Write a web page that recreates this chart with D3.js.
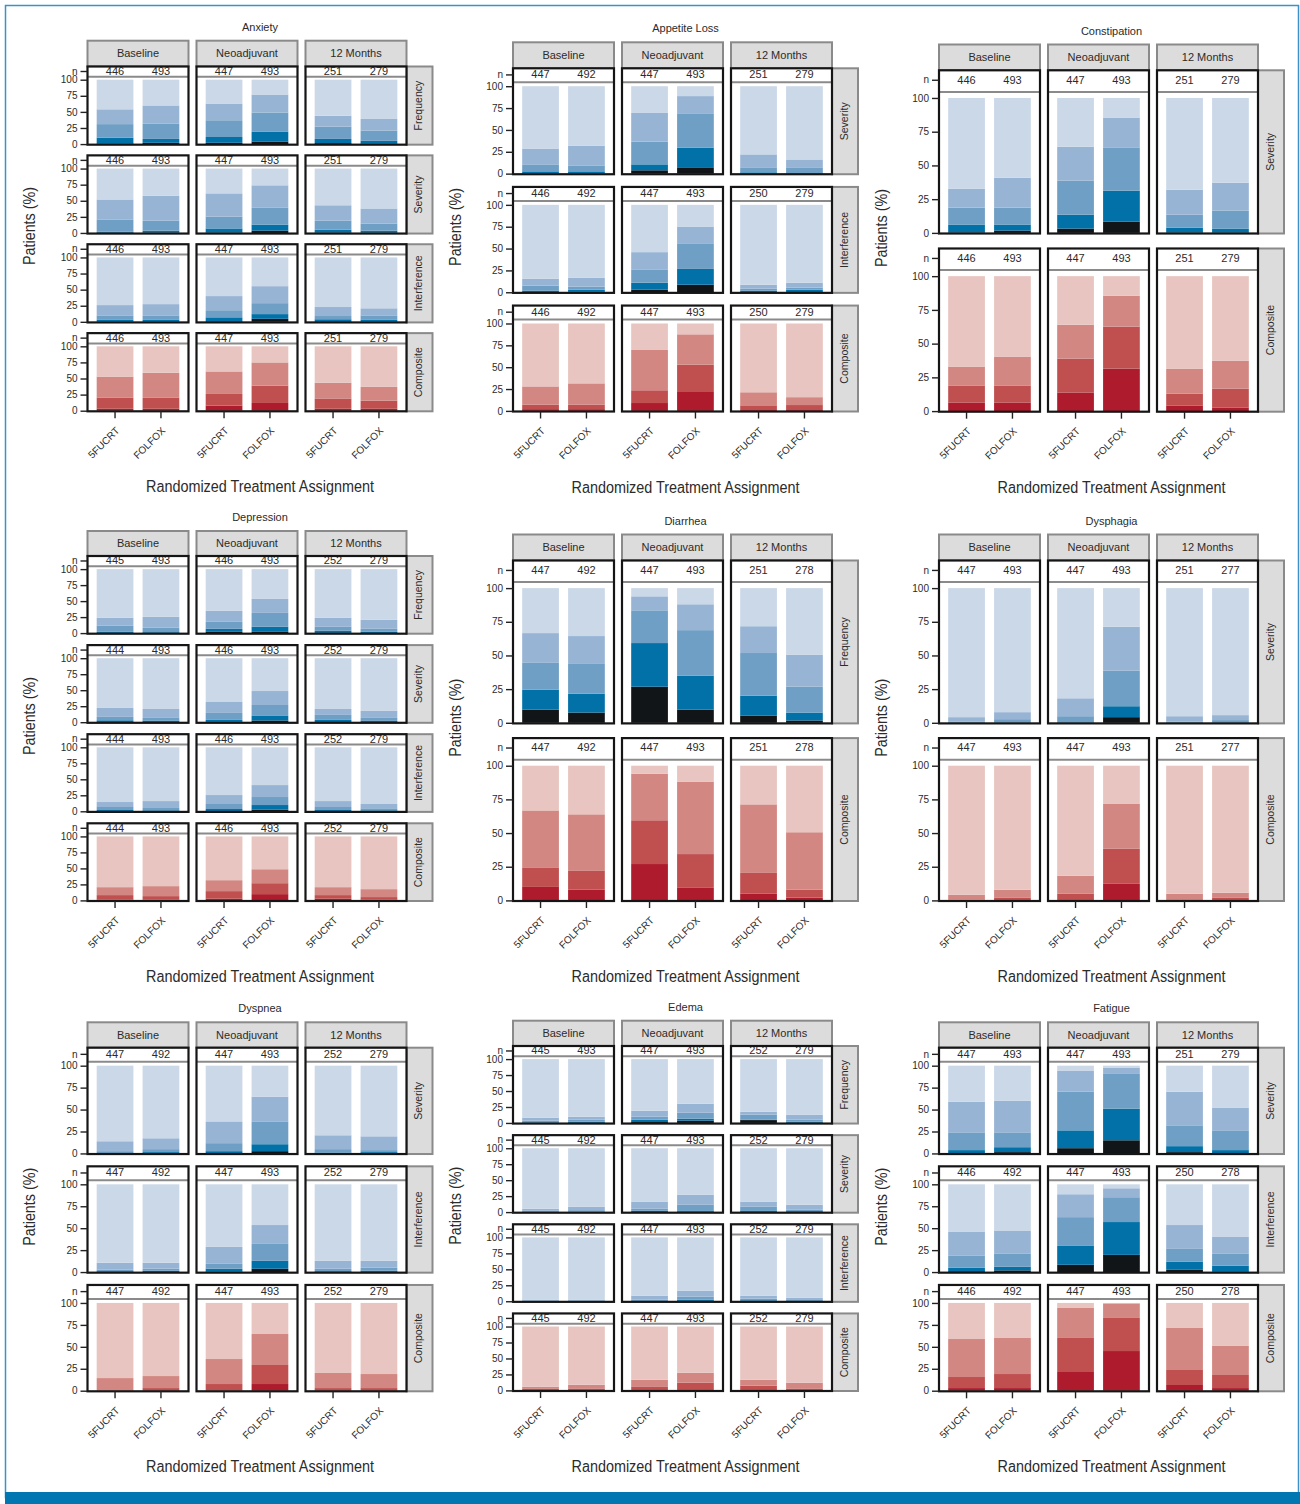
<!DOCTYPE html>
<html>
<head>
<meta charset="utf-8">
<script src="https://cdn.jsdelivr.net/npm/d3@7"></script>
<style>
  body { margin: 0; background: #fff; }
  svg text { font-family: "Liberation Sans", Arial, sans-serif; fill: #2b2b2b; }
</style>
</head>
<body>
<svg id="chart" width="1300" height="1504"></svg>
<script>
/* global d3 */
const timepoints = ['Baseline', 'Neoadjuvant', '12 Months'];
const arms = ['5FUCRT', 'FOLFOX'];
const yTicks = [0, 25, 50, 75, 100];

// Cumulative % of patients from the worst level upward, one entry per bar:
// Baseline 5FUCRT, Baseline FOLFOX, Neoadjuvant 5FUCRT, Neoadjuvant FOLFOX, 12 Months 5FUCRT, 12 Months FOLFOX
const anxietyFrequency = [[1, 10, 31, 54], [2, 8, 32, 60], [2, 11, 37, 63], [4, 19, 49, 77], [1.5, 8, 27, 44], [0.5, 5, 21, 39]];
const anxietySeverity = [[0.5, 2, 21, 52], [0.5, 3.6, 19, 58], [0.5, 7, 25.5, 61.5], [3.6, 13, 39.6, 74], [0.5, 5, 19, 43], [0.3, 3.6, 14.6, 38]];
const anxietyInterference = [[0.5, 3, 10, 26], [0.5, 3, 10, 27.5], [1, 7, 18, 40], [4.7, 12, 29, 55.4], [1, 4, 9, 23], [0.5, 3, 10, 21]];
const anxietyComposite = [[3, 20, 53], [3, 20, 59], [8, 26, 61], [12, 39, 75], [3, 19, 43.5], [3, 15.5, 37]];

const appetiteSeverity = [[0.5, 2.6, 10.6, 28.7], [0.5, 2.6, 9.4, 32], [3.8, 10.6, 36.6, 69.4], [7.2, 29.8, 68.3, 88.7], [0.3, 1.5, 7.2, 22], [0.2, 0.7, 7.2, 16.2]];
const appetiteInterference = [[0.3, 1.9, 7.5, 15.4], [0.5, 3, 6.4, 16.5], [3, 10.9, 25.6, 45.9], [8.6, 26.7, 56, 75.2], [0.3, 1.9, 4.1, 8.6], [0.3, 3, 5.3, 10.9]];
const appetiteComposite = [[2, 7, 28], [2, 7, 31.5], [9, 23.6, 69.7], [22.5, 52.8, 87.6], [1, 5.6, 21.3], [1, 6.7, 15.7]];

const constipationSeverity = [[0.3, 6.2, 18.7, 32.8], [1.7, 6.2, 18.7, 40.9], [3.2, 13.5, 38.7, 63.8], [8.4, 31.3, 63, 85.2], [0.2, 3.9, 13.5, 32], [0.2, 3.2, 16.5, 37.2]];
const constipationComposite = [[6.4, 19, 33], [6.4, 19, 40.4], [13.8, 38.9, 64], [31.5, 62.6, 85.5], [4.2, 13, 31.5], [2.7, 16.7, 37.4]];

const depressionFrequency = [[0.3, 2, 11.4, 23.8], [0.3, 1.5, 8.3, 25.4], [2, 6.7, 17.6, 34.7], [2, 9.8, 31.6, 53.4], [0.3, 3.6, 9.8, 23.8], [0.2, 2, 6.7, 20.7]];
const depressionSeverity = [[0.3, 3, 8.3, 22.3], [0.3, 2.6, 6.7, 20.7], [0.5, 3.6, 14.5, 31.6], [2.6, 9.8, 26.9, 48.7], [0.3, 3.6, 11.4, 20.7], [0.3, 2, 6.7, 17.6]];
const depressionInterference = [[0.2, 2, 6.7, 14.5], [0.2, 1.5, 5.2, 16], [0.5, 3.6, 11.4, 25.4], [2.6, 9.8, 22.3, 41], [0.3, 2, 6.7, 16], [0.2, 1.5, 4.7, 11.4]];
const depressionComposite = [[1, 8.3, 20.7], [1, 6.7, 22.3], [2.6, 14.5, 31.6], [9.8, 26.9, 48.7], [2.6, 8.3, 20.7], [1, 5.2, 17.6]];

const diarrheaFrequency = [[9.8, 24.6, 44.5, 66.6], [7.6, 21.6, 43.7, 64.4], [26.8, 59.2, 83.5, 93.9], [9.8, 34.9, 68.8, 88], [5.4, 20.1, 51.8, 71.7], [1.7, 7.6, 26.8, 50.4]];
const diarrheaComposite = [[10, 24.1, 66.8], [7.9, 21.9, 63.9], [27, 59.5, 94.1], [9.3, 34.4, 88.2], [4.9, 20.4, 71.3], [2, 7.9, 50.6]];

const dysphagiaSeverity = [[0, 0.2, 1, 4.2], [0, 0.3, 2.7, 7.9], [0, 0.4, 4.9, 18.2], [4.2, 12.3, 38.8, 71.3], [0, 0.2, 0.8, 4.9], [0, 0.3, 2, 5.7]];
const dysphagiaComposite = [[0, 0.4, 4.2], [0.3, 2.2, 7.9], [0.3, 4.9, 18.3], [12.3, 38.3, 71.6], [0, 0.3, 4.9], [0.2, 2.2, 5.7]];

const dyspneaSeverity = [[0, 0.5, 2.6, 13.9], [0, 1.5, 4.9, 17.3], [0.3, 2.6, 11.7, 36.5], [2.6, 10.5, 36.5, 64.7], [0, 1, 4.9, 20.7], [0, 1.5, 3.8, 19.5]];
const dyspneaInterference = [[0, 1, 2.6, 10.6], [0, 1.5, 3.8, 10.6], [0.5, 3.8, 9.4, 28.7], [3.8, 12.8, 32.1, 53.6], [0, 1, 3.8, 12.8], [0.2, 1.5, 4.9, 12.8]];
const dyspneaComposite = [[0, 0.5, 14.4], [0, 3, 16.7], [0.3, 7.6, 36.1], [7.6, 29.3, 64.6], [0, 3, 20.2], [0, 3, 19]];

const edemaFrequency = [[0, 1, 3.6, 8.3], [0.2, 2, 5.2, 9.8], [2.6, 5.2, 9.8, 19.2], [3.6, 6.7, 16, 30], [4.5, 5.2, 13, 17.6], [0.3, 2, 5.2, 13]];
const edemaSeverity = [[0, 0.5, 2.6, 5.2], [0, 0.5, 3, 8.3], [0, 2, 5.2, 16], [0.5, 2.6, 11.4, 27], [0.3, 2.6, 8.3, 16], [0, 1.5, 3.6, 11.4]];
const edemaInterference = [[0, 0.5, 1, 2.6], [0, 0.5, 1, 2.6], [0, 0.5, 2.6, 8.8], [0.5, 2.6, 7.3, 16.6], [0, 1.5, 4.1, 8.8], [0, 0.5, 2, 5.7]];
const edemaComposite = [[0, 3.1, 5.7], [0, 3.1, 8.9], [0, 6.3, 16.7], [0.5, 12, 27.6], [0, 7.3, 16.7], [0, 3.1, 12]];

const fatigueSeverity = [[0.5, 3.8, 24, 59], [1.5, 7.1, 24, 60.2], [6, 26.3, 70.3, 94], [15, 51.1, 90.6, 97.4], [1.5, 8.3, 32, 70.3], [0.3, 3.8, 26.3, 52.3]];
const fatigueInterference = [[1, 4.9, 18.5, 45.7], [1.9, 6, 20.8, 46.8], [8.3, 29.8, 62.6, 88.7], [19.6, 57, 85.3, 95.5], [2.6, 11.7, 26.4, 53.6], [0.3, 7.2, 20.8, 40]];
const fatigueComposite = [[3, 15.6, 58.9], [3, 19, 60.1], [21.3, 60.1, 94.3], [45.2, 82.9, 99.5], [6.5, 23.6, 71.5], [3, 17.9, 51]];

// Patients answering, same bar order as above
const nAnxiety = [446, 493, 447, 493, 251, 279];
const nAppetiteSev = [447, 492, 447, 493, 251, 279];
const nAppetite = [446, 492, 447, 493, 250, 279];
const nConstipation = [446, 493, 447, 493, 251, 279];
const nDepressionFreq = [445, 493, 446, 493, 252, 279];
const nDepression = [444, 493, 446, 493, 252, 279];
const nDiarrhea = [447, 492, 447, 493, 251, 278];
const nDysphagia = [447, 493, 447, 493, 251, 277];
const nDyspnea = [447, 492, 447, 493, 252, 279];
const nEdemaFreq = [445, 493, 447, 493, 252, 279];
const nEdema = [445, 492, 447, 493, 252, 279];
const nFatigueSev = [447, 493, 447, 493, 251, 279];
const nFatigue = [446, 492, 447, 493, 250, 278];

const blues = ['#121517', '#0171a8', '#6f9fc4', '#97b4d5', '#cbd8e8']; // worst -> none
const reds = ['#ad1b2c', '#c05050', '#d38782', '#e8c5c0'];

const panels = [
  {title: 'Anxiety', rows: [['Frequency', anxietyFrequency, nAnxiety], ['Severity', anxietySeverity, nAnxiety], ['Interference', anxietyInterference, nAnxiety], ['Composite', anxietyComposite, nAnxiety]]},
  {title: 'Appetite Loss', rows: [['Severity', appetiteSeverity, nAppetiteSev], ['Interference', appetiteInterference, nAppetite], ['Composite', appetiteComposite, nAppetite]]},
  {title: 'Constipation', rows: [['Severity', constipationSeverity, nConstipation], ['Composite', constipationComposite, nConstipation]]},
  {title: 'Depression', rows: [['Frequency', depressionFrequency, nDepressionFreq], ['Severity', depressionSeverity, nDepression], ['Interference', depressionInterference, nDepression], ['Composite', depressionComposite, nDepression]]},
  {title: 'Diarrhea', rows: [['Frequency', diarrheaFrequency, nDiarrhea], ['Composite', diarrheaComposite, nDiarrhea]]},
  {title: 'Dysphagia', rows: [['Severity', dysphagiaSeverity, nDysphagia], ['Composite', dysphagiaComposite, nDysphagia]]},
  {title: 'Dyspnea', rows: [['Severity', dyspneaSeverity, nDyspnea], ['Interference', dyspneaInterference, nDyspnea], ['Composite', dyspneaComposite, nDyspnea]]},
  {title: 'Edema', rows: [['Frequency', edemaFrequency, nEdemaFreq], ['Severity', edemaSeverity, nEdema], ['Interference', edemaInterference, nEdema], ['Composite', edemaComposite, nEdema]]},
  {title: 'Fatigue', rows: [['Severity', fatigueSeverity, nFatigueSev], ['Interference', fatigueInterference, nFatigue], ['Composite', fatigueComposite, nFatigue]]}
];

// Page geometry
const colX = [87.5, 513, 939], // left edge of the first cell in each column of panels
  cellW = 101, cellPitch = 109, stripW = 26,
  yMax = 120.5, nLine = 104.5, nTick = 113.5; // y units; the "n" strip sits above 100
const layout = [
  {stripTop: 40.7, top: 66.5, bottom: 411.3, gap: 10.7},
  {stripTop: 42.3, top: 68.3, bottom: 411.5, gap: 12.7},
  {stripTop: 44.5, top: 70.3, bottom: 411.7, gap: 15},
  {stripTop: 531, top: 556, bottom: 901, gap: 11.4},
  {stripTop: 534.5, top: 560.5, bottom: 901, gap: 14.7},
  {stripTop: 534.5, top: 560.5, bottom: 901, gap: 14.7},
  {stripTop: 1022.3, top: 1047.7, bottom: 1391.3, gap: 12.3},
  {stripTop: 1020.7, top: 1046, bottom: 1391, gap: 11.6},
  {stripTop: 1022.3, top: 1047.7, bottom: 1391.3, gap: 12.3}
];

const svg = d3.select('#chart');

// page frame
svg.append('rect').
  attr('x', 5.5).attr('y', 5.5).attr('width', 1293).attr('height', 1492).
  attr('fill', 'none').attr('stroke', '#3b92ca').attr('stroke-width', 1.5);
svg.append('rect').
  attr('x', 5).attr('y', 1492).attr('width', 1295).attr('height', 12).
  attr('fill', '#0077b0');

const xb = d3.scaleBand().domain(arms).range([0, cellW]).paddingInner(0.2).paddingOuter(0.2);

panels.forEach((panel, i) => drawPanel(panel, layout[i], colX[i % 3]));

function drawPanel(panel, lay, x0) {
  const g = svg.append('g'),
    nRows = panel.rows.length,
    rowH = (lay.bottom - lay.top - lay.gap * (nRows - 1)) / nRows,
    cellX = t => x0 + t * cellPitch,
    right = cellX(2) + cellW,
    midX = (x0 + right + stripW) / 2;

  // panel title
  g.append('text').
    attr('x', midX).attr('y', lay.stripTop - 13.7).attr('dy', '0.35em').
    attr('text-anchor', 'middle').style('font-size', '11px').
    text(panel.title);

  // column strips
  timepoints.forEach((tp, t) => {
    g.append('rect').
      attr('x', cellX(t)).attr('y', lay.stripTop).
      attr('width', cellW).attr('height', lay.top - lay.stripTop).
      attr('fill', '#dcdcdc').attr('stroke', '#8a8a8a').attr('stroke-width', 2);
    g.append('text').
      attr('x', cellX(t) + cellW / 2).attr('y', (lay.stripTop + lay.top) / 2).attr('dy', '0.35em').
      attr('text-anchor', 'middle').style('font-size', '11px').
      text(tp);
  });

  panel.rows.forEach(([label, values, counts], r) => {
    const rowTop = lay.top + r * (rowH + lay.gap),
      rowBottom = rowTop + rowH,
      y = d3.scaleLinear().domain([0, yMax]).range([rowBottom - 0.6, rowTop]),
      colors = label === 'Composite' ? reds : blues;

    // row strip
    g.append('rect').
      attr('x', right).attr('y', rowTop).attr('width', stripW).attr('height', rowH).
      attr('fill', '#dcdcdc').attr('stroke', '#8a8a8a').attr('stroke-width', 2);
    g.append('text').
      attr('transform', `translate(${right + stripW / 2 - 1},${rowTop + rowH / 2}) rotate(-90)`).
      attr('dy', '0.35em').attr('text-anchor', 'middle').style('font-size', '10.5px').
      text(label);

    timepoints.forEach((tp, t) => {
      const cell = g.append('g').attr('transform', `translate(${cellX(t)},0)`);
      cell.append('rect').
        attr('x', 0).attr('y', rowTop).attr('width', cellW).attr('height', rowH).
        attr('fill', '#fff');

      arms.forEach((arm, a) => {
        const idx = t * 2 + a,
          segs = d3.pairs([0, ...values[idx], 100]);
        cell.selectAll(null).
          data(segs).
          join('rect').
          attr('x', xb(arm)).
          attr('width', xb.bandwidth()).
          attr('y', d => y(d[1])).
          attr('height', d => Math.max(0, y(d[0]) - y(d[1]))).
          attr('fill', (d, k) => colors[k]);

        cell.append('text').
          attr('x', xb(arm) + xb.bandwidth() / 2).attr('y', y(nTick)).attr('dy', '0.36em').
          attr('text-anchor', 'middle').style('font-size', '11px').
          text(counts[idx]);
      });

      cell.append('line').
        attr('x1', 0).attr('x2', cellW).attr('y1', y(nLine)).attr('y2', y(nLine)).
        attr('stroke', '#8a8a8a').attr('stroke-width', 2);
      cell.append('rect').
        attr('x', 0).attr('y', rowTop).attr('width', cellW).attr('height', rowH).
        attr('fill', 'none').attr('stroke', '#151515').attr('stroke-width', 2.2);

      // x axis under the last row
      if (r === nRows - 1) {
        const ax = cell.append('g').
          attr('transform', `translate(0,${rowBottom})`).
          call(d3.axisBottom(xb).tickSize(7));
        ax.select('.domain').remove();
        ax.selectAll('line').attr('stroke', '#222').attr('stroke-width', 1.4);
        ax.selectAll('text').
          attr('x', 0).attr('y', 0).attr('dy', 0).
          attr('transform', 'translate(5,20) rotate(-45)').
          attr('text-anchor', 'end').
          style('font-size', '10px').style('font-family', null);
      }
    });

    // y axis for each row
    const ay = g.append('g').
      attr('transform', `translate(${x0},0)`).
      call(d3.axisLeft(y).
        tickValues([...yTicks, nTick]).
        tickFormat(d => d === nTick ? 'n' : d).
        tickSize(7).tickPadding(3));
    ay.select('.domain').remove();
    ay.selectAll('line').attr('stroke', '#222').attr('stroke-width', 1.4);
    ay.selectAll('text').style('font-size', '10px').style('font-family', null);
  });

  // axis titles (condensed to the reference's narrow face)
  g.append('text').
    attr('transform', `translate(${x0 - 58},${(lay.stripTop + lay.bottom) / 2}) rotate(-90)`).
    attr('dy', '0.35em').attr('text-anchor', 'middle').style('font-size', '16px').
    attr('textLength', 78).attr('lengthAdjust', 'spacingAndGlyphs').
    text('Patients (%)');
  g.append('text').
    attr('x', midX).attr('y', lay.bottom + 75.5).attr('dy', '0.35em').
    attr('text-anchor', 'middle').style('font-size', '16px').
    attr('textLength', 228).attr('lengthAdjust', 'spacingAndGlyphs').
    text('Randomized Treatment Assignment');
}
</script>
</body>
</html>
